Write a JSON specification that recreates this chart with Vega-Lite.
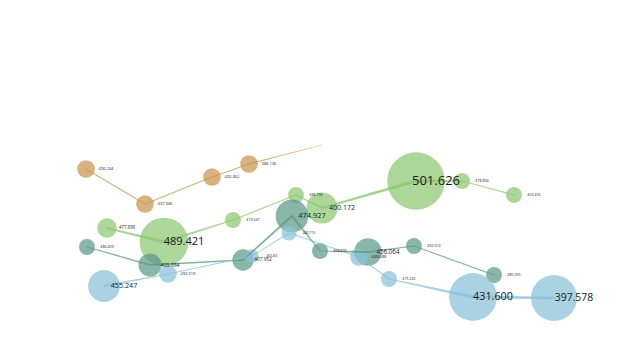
{
  "$schema": "https://vega.github.io/schema/vega-lite/v6.json",
  "autosize": {"type": "fit", "contains": "padding"},
  "width": 640,
  "height": 360,
  "padding": 0,
  "background": "white",
  "config": {"view": {"stroke": null}},
  "data": {"values": [
    {"s": "A", "i": 1, "x": 86, "y": 191, "w": 10, "label": "496.744"},
    {"s": "A", "i": 2, "x": 145, "y": 156, "w": 10, "label": "437.346"},
    {"s": "A", "i": 3, "x": 212, "y": 183, "w": 10, "label": "432.362"},
    {"s": "A", "i": 4, "x": 249, "y": 196, "w": 10, "label": "386.136"},
    {"s": "A", "i": 5, "x": 322, "y": 215, "w": 0, "label": ""},
    {"s": "B", "i": 1, "x": 107, "y": 132, "w": 11, "label": "477.938"},
    {"s": "B", "i": 2, "x": 164, "y": 118, "w": 27.5, "label": "489.421"},
    {"s": "B", "i": 3, "x": 233, "y": 140, "w": 9, "label": "419.547"},
    {"s": "B", "i": 4, "x": 296, "y": 165, "w": 9, "label": "386.790"},
    {"s": "B", "i": 5, "x": 322, "y": 152, "w": 17.5, "label": "400.172"},
    {"s": "B", "i": 6, "x": 416, "y": 179, "w": 32.5, "label": "501.626"},
    {"s": "B", "i": 7, "x": 462, "y": 179, "w": 9, "label": "478.894"},
    {"s": "B", "i": 8, "x": 514, "y": 165, "w": 9, "label": "453.416"},
    {"s": "C", "i": 1, "x": 87, "y": 113, "w": 9, "label": "486.459"},
    {"s": "C", "i": 2, "x": 150, "y": 95, "w": 13, "label": "403.984"},
    {"s": "C", "i": 3, "x": 243, "y": 100, "w": 12, "label": "407.952"},
    {"s": "C", "i": 4, "x": 292, "y": 144, "w": 18.5, "label": "474.927"},
    {"s": "C", "i": 5, "x": 320, "y": 109, "w": 9, "label": "464.600"},
    {"s": "C", "i": 6, "x": 368, "y": 108, "w": 15.5, "label": "456.064"},
    {"s": "C", "i": 7, "x": 414, "y": 114, "w": 9, "label": "492.014"},
    {"s": "C", "i": 8, "x": 494, "y": 85, "w": 9, "label": "485.255"},
    {"s": "D", "i": 1, "x": 104, "y": 74, "w": 18, "label": "455.247"},
    {"s": "D", "i": 2, "x": 168, "y": 86, "w": 10, "label": "492.319"},
    {"s": "D", "i": 3, "x": 252, "y": 104, "w": 7.5, "label": "469.455"},
    {"s": "D", "i": 4, "x": 289, "y": 127, "w": 8.5, "label": "440.713"},
    {"s": "D", "i": 5, "x": 359, "y": 103, "w": 10, "label": "448.588"},
    {"s": "D", "i": 6, "x": 389, "y": 81, "w": 9, "label": "475.232"},
    {"s": "D", "i": 7, "x": 473, "y": 63, "w": 27, "label": "431.600"},
    {"s": "D", "i": 8, "x": 554, "y": 62, "w": 26, "label": "397.578"}
  ]},
  "encoding": {
    "x": {"field": "x", "type": "quantitative", "scale": {"domain": [0, 640], "nice": false, "zero": false}, "axis": null},
    "y": {"field": "y", "type": "quantitative", "scale": {"domain": [0, 360], "nice": false, "zero": false}, "axis": null},
    "color": {"field": "s", "type": "nominal", "legend": null,
      "scale": {"domain": ["A", "B", "C", "D"], "range": ["#c9964f", "#8cc770", "#5a9a86", "#8ac0d8"]}}
  },
  "layer": [
    {
      "mark": {"type": "circle", "opacity": 0.72, "clip": false},
      "encoding": {
        "size": {"field": "w", "type": "quantitative", "legend": null,
          "scale": {"type": "pow", "exponent": 2, "domain": [0, 33], "range": [0, 3421]}}
      }
    },
    {
      "mark": {"type": "trail", "opacity": 0.75},
      "encoding": {
        "order": {"field": "i", "type": "quantitative"},
        "size": {"field": "w", "type": "quantitative", "legend": null,
          "scale": {"domain": [0, 33], "range": [0.3, 3.4]}}
      }
    },
    {
      "transform": [{"filter": "datum.label != ''"}],
      "mark": {"type": "text", "align": "center", "baseline": "middle", "dx": 20, "font": "Open Sans", "color": "#1a1a1a"},
      "encoding": {
        "text": {"field": "label", "type": "nominal"},
        "color": {"value": "#1a1a1a"},
        "size": {"field": "w", "type": "quantitative", "legend": null,
          "scale": {"domain": [0, 33], "range": [0, 13.2]}}
      }
    }
  ],
  "resolve": {"scale": {"size": "independent"}}
}
